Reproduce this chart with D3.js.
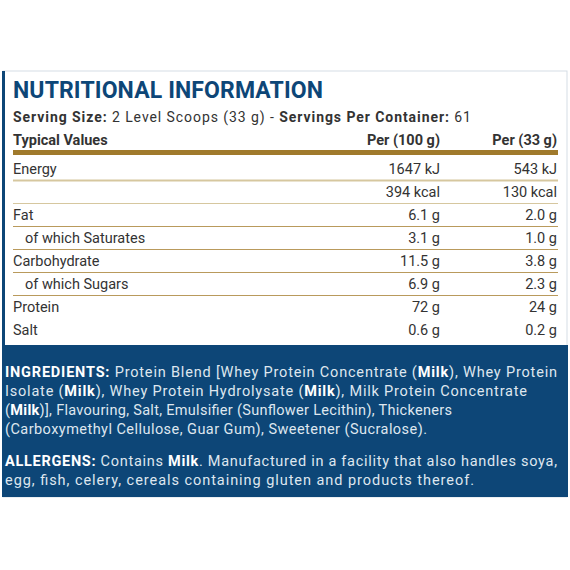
<!DOCTYPE html>
<html><head><meta charset="utf-8">
<script src="https://cdn.jsdelivr.net/npm/d3@7"></script>
<style>body{margin:0;background:#fff}text{font-family:Roboto,"Noto Sans",sans-serif}</style>
</head><body><div id="c"></div>
<script>
const labels = ["Energy", "", "Fat", "of which Saturates", "Carbohydrate", "of which Sugars", "Protein", "Salt"];
const per100 = ["1647 kJ", "394 kcal", "6.1 g", "3.1 g", "11.5 g", "6.9 g", "72 g", "0.6 g"];
const per33 = ["543 kJ", "130 kcal", "2.0 g", "1.0 g", "3.8 g", "2.3 g", "24 g", "0.2 g"];
const indented = [false, false, false, true, false, true, false, false];
const ruleAfter = [1, 2, 3, 4, 5, 6];
const ingredients = [
  [["INGREDIENTS: ", 1], ["Protein Blend [Whey Protein Concentrate (", 0], ["Milk", 1], ["), Whey Protein", 0]],
  [["Isolate (", 0], ["Milk", 1], ["), Whey Protein Hydrolysate (", 0], ["Milk", 1], ["), Milk Protein Concentrate", 0]],
  [["(", 0], ["Milk", 1], [")], Flavouring, Salt, Emulsifier (Sunflower Lecithin), Thickeners", 0]],
  [["(Carboxymethyl Cellulose, Guar Gum), Sweetener (Sucralose).", 0]]
];
const allergens = [
  [["ALLERGENS: ", 1], ["Contains ", 0], ["Milk", 1], [". Manufactured in a facility that also handles soya,", 0]],
  [["egg, fish, celery, cereals containing gluten and products thereof.", 0]]
];

const W = 570, H = 570, blue = "#0d4677", ink = "#333";
const svg = d3.select("#c").append("svg").attr("width", W).attr("height", H);

// frame
svg.append("rect").attr("x", 3).attr("y", 71).attr("width", 564).attr("height", 426)
  .attr("fill", "#fff").attr("stroke", "#d5dde5").attr("stroke-width", 1);
svg.append("rect").attr("x", 2).attr("y", 71).attr("width", 3).attr("height", 426).attr("fill", blue);

svg.append("text").attr("x", 13).attr("y", 98).attr("font-size", 23).attr("font-weight", 700)
  .attr("fill", blue).attr("textLength", 310).text("NUTRITIONAL INFORMATION");

const serv = svg.append("text").attr("x", 13).attr("y", 122).attr("font-size", 14).attr("fill", ink)
  .attr("textLength", 458);
serv.append("tspan").attr("font-weight", 700).text("Serving Size: ");
serv.append("tspan").text("2 Level Scoops (33 g)  -  ");
serv.append("tspan").attr("font-weight", 700).text("Servings Per Container: ");
serv.append("tspan").text("61");

const x100 = 440, x33 = 557;
const hdr = svg.append("g").attr("font-size", 14.5).attr("font-weight", 700).attr("fill", ink);
hdr.append("text").attr("x", 13).attr("y", 145).text("Typical Values");
hdr.append("text").attr("x", x100).attr("y", 145).attr("text-anchor", "end").text("Per (100 g)");
hdr.append("text").attr("x", x33).attr("y", 145).attr("text-anchor", "end").text("Per (33 g)");
svg.append("rect").attr("x", 13).attr("y", 150).attr("width", 545).attr("height", 5).attr("fill", "#a07a2c");

const y = d3.scaleLinear().domain([0, 7]).range([174, 335]);
const step = y(1) - y(0);

svg.selectAll("line.rule").data(ruleAfter).join("line")
  .attr("x1", 13).attr("x2", 558)
  .attr("y1", d => y(d) - step + 6.5).attr("y2", d => y(d) - step + 6.5)
  .attr("stroke", (d, i) => i < 2 ? "#d6c79f" : "#b99a5c").attr("stroke-width", (d, i) => i === 0 ? 2 : 1.2);

const rows = svg.append("g").attr("font-size", 14.5).attr("fill", ink);
rows.selectAll("text.l").data(labels).join("text")
  .attr("x", (d, i) => indented[i] ? 25 : 13).attr("y", (d, i) => y(i)).text(d => d);
rows.selectAll("text.a").data(per100).join("text").attr("text-anchor", "end")
  .attr("x", x100).attr("y", (d, i) => y(i)).text(d => d);
rows.selectAll("text.b").data(per33).join("text").attr("text-anchor", "end")
  .attr("x", x33).attr("y", (d, i) => y(i)).text(d => d);

// blue panel
svg.append("rect").attr("x", 2).attr("y", 345).attr("width", 566).attr("height", 152).attr("fill", blue);

function para(lines, y0, fits) {
  lines.forEach((parts, i) => {
    const t = svg.append("text").attr("x", 5).attr("y", y0 + i * 19).attr("font-size", 14.5).attr("fill", "#dfe7ef");
    if (fits[i]) t.attr("textLength", fits[i]).attr("lengthAdjust", "spacing");
    parts.forEach(([s, b]) => t.append("tspan").attr("font-weight", b ? 700 : 400)
      .attr("fill", b ? "#fff" : "#dfe7ef").text(s));
  });
}
para(ingredients, 377, [552, 522, 447, 422]);
para(allergens, 466, [552, 469]);
</script></body></html>
